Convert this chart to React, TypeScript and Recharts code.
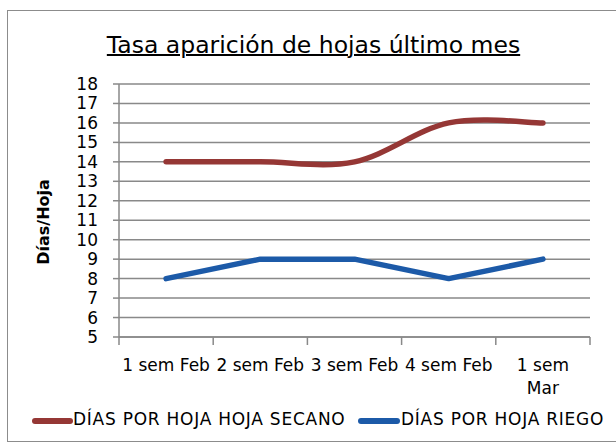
import React from "react";
import { LineChart, Line, XAxis, YAxis, CartesianGrid } from "recharts";

const categories = ["1 sem Feb", "2 sem Feb", "3 sem Feb", "4 sem Feb", "1 sem Mar"];
const secano = [14, 14, 14, 16, 16];
const riego = [8, 9, 9, 8, 9];
const yTicks = [5, 6, 7, 8, 9, 10, 11, 12, 13, 14, 15, 16, 17, 18];
const seriesNames = ["DÍAS POR HOJA HOJA SECANO", "DÍAS POR HOJA RIEGO"];
const title = "Tasa aparición de hojas último mes";
const yTitle = "Días/Hoja";

const data = categories.map((c, i) => ({ cat: c, secano: secano[i], riego: riego[i] }));

const W = 616;
const H = 442;
const M = { top: 84, right: 26, bottom: 45, left: 0 };
const Y_W = 119;
const X_H = 60;
const PLOT_W = W - M.left - M.right - Y_W;
const BAND = PLOT_W / categories.length;

const FONT = "'DejaVu Sans', sans-serif";
const RED = "#953735";
const BLUE = "#1c5aa8";
const GRID = "#898989";

// Excel-like smoothed line (uniform Catmull-Rom as cubic Bezier)
const excelSmooth = (context: any) => {
  let pts: number[][] = [];
  return {
    areaStart() {},
    areaEnd() {},
    lineStart() {
      pts = [];
    },
    point(x: number, y: number) {
      pts.push([+x, +y]);
    },
    lineEnd() {
      if (!pts.length) return;
      context.moveTo(pts[0][0], pts[0][1]);
      for (let i = 0; i < pts.length - 1; i++) {
        const p0 = pts[i - 1] || pts[i];
        const p1 = pts[i];
        const p2 = pts[i + 1];
        const p3 = pts[i + 2] || pts[i + 1];
        context.bezierCurveTo(
          p1[0] + (p2[0] - p0[0]) / 6,
          p1[1] + (p2[1] - p0[1]) / 6,
          p2[0] - (p3[0] - p1[0]) / 6,
          p2[1] - (p3[1] - p1[1]) / 6,
          p2[0],
          p2[1]
        );
      }
    },
  };
};

const XTick = (props: any) => {
  const { x, y, payload, index } = props;
  const last = index === categories.length - 1;
  const label: string = payload.value;
  const words = label.split(" ");
  const parts = last ? [words.slice(0, 2).join(" "), words.slice(2).join(" ")] : [label];
  return (
    <g>
      <line x1={x - BAND / 2} x2={x - BAND / 2} y1={y - 8} y2={y} stroke={GRID} strokeWidth={1.5} />
      {last && <line x1={x + BAND / 2} x2={x + BAND / 2} y1={y - 8} y2={y} stroke={GRID} strokeWidth={1.5} />}
      <text x={x} y={y + 26} textAnchor="middle" fontFamily={FONT} fontSize={17} fill="#000">
        {parts.map((p, i) => (
          <tspan key={i} x={x} dy={i === 0 ? 0 : 22.5}>
            {p}
          </tspan>
        ))}
      </text>
    </g>
  );
};

const YLabel = () => (
  <text
    x={49}
    y={222}
    transform="rotate(-90, 49, 222)"
    textAnchor="middle"
    fontFamily={FONT}
    fontSize={16}
    fontWeight={700}
    fill="#000"
  >
    {yTitle}
  </text>
);

export default function App() {
  return (
    <div style={{ position: "absolute", left: 0, top: 0, width: W, height: H, overflow: "hidden", background: "#fff" }}>
      <div style={{ position: "absolute", left: 7, top: 10, width: 640, height: 430, border: "1.5px solid #8c8c8c" }} />
      <div
        style={{
          position: "absolute",
          left: 0,
          top: 31,
          width: 627,
          textAlign: "center",
          fontFamily: FONT,
          fontSize: 23.5,
          lineHeight: "28px",
          textDecoration: "underline",
          textDecorationThickness: "1.5px",
          color: "#000",
          whiteSpace: "nowrap",
        }}
      >
        {title}
      </div>
      <div style={{ position: "absolute", left: 0, top: 0 }}>
        <LineChart width={W} height={H} data={data} margin={M}>
          <CartesianGrid vertical={false} horizontal stroke={GRID} strokeWidth={1.5} />
          <XAxis
            dataKey="cat"
            height={X_H}
            padding={{ left: BAND / 2, right: BAND / 2 }}
            axisLine={{ stroke: GRID, strokeWidth: 1.5 }}
            tickLine={false}
            tick={<XTick />}
            interval={0}
          />
          <YAxis
            width={Y_W}
            domain={[5, 18]}
            ticks={yTicks}
            interval={0}
            axisLine={{ stroke: GRID, strokeWidth: 1.5 }}
            tickLine={{ stroke: GRID, strokeWidth: 1.5 }}
            tickSize={6}
            tickMargin={15}
            tick={{ fontFamily: FONT, fontSize: 17, fill: "#000" }}
            label={<YLabel />}
          />
          <Line
            type={excelSmooth as any}
            dataKey="secano"
            name={seriesNames[0]}
            stroke={RED}
            strokeWidth={5.5}
            strokeLinecap="round"
            dot={false}
            isAnimationActive={false}
          />
          <Line
            type="linear"
            dataKey="riego"
            name={seriesNames[1]}
            stroke={BLUE}
            strokeWidth={5.5}
            strokeLinecap="round"
            strokeLinejoin="round"
            dot={false}
            isAnimationActive={false}
          />
        </LineChart>
      </div>
      <svg width={W} height={H} style={{ position: "absolute", left: 0, top: 0, pointerEvents: "none" }}>
        <line x1={35} x2={70} y1={421} y2={421} stroke={RED} strokeWidth={6} strokeLinecap="round" />
        <text x={73} y={425} fontFamily={FONT} fontSize={17} letterSpacing={0.75} fill="#000">
          {seriesNames[0]}
        </text>
        <line x1={361} x2={397} y1={421} y2={421} stroke={BLUE} strokeWidth={6} strokeLinecap="round" />
        <text x={401} y={425} fontFamily={FONT} fontSize={17} letterSpacing={0.75} fill="#000">
          {seriesNames[1]}
        </text>
      </svg>
    </div>
  );
}
